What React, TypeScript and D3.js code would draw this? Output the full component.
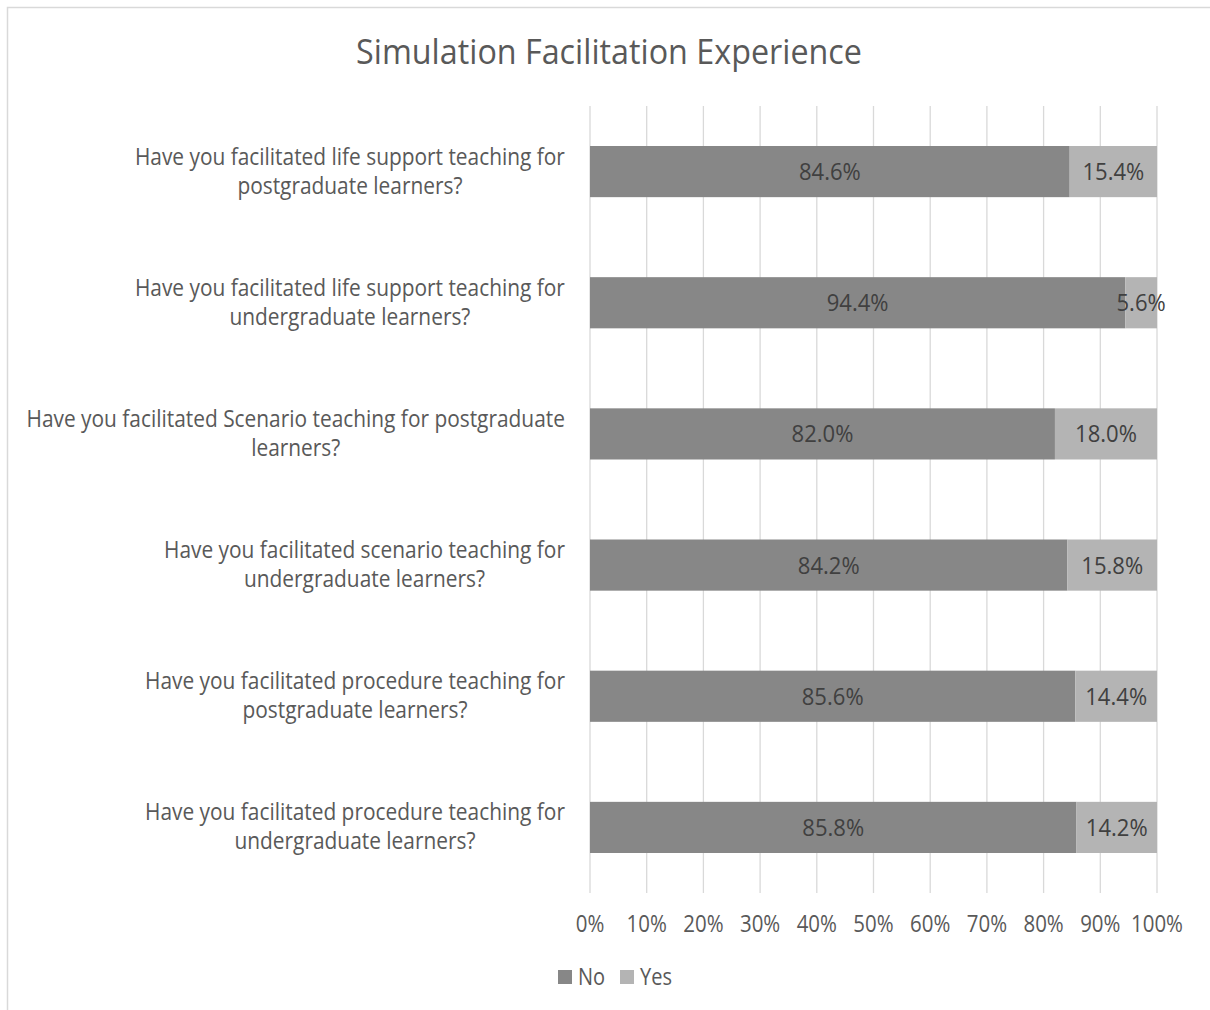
import React, { useEffect, useRef } from "react";
import * as d3 from "d3";

const title = "Simulation Facilitation Experience";
const categories = [
  "Have you facilitated life support teaching for\npostgraduate learners?",
  "Have you facilitated life support teaching for\nundergraduate learners?",
  "Have you facilitated Scenario teaching for postgraduate\nlearners?",
  "Have you facilitated scenario teaching for\nundergraduate learners?",
  "Have you facilitated procedure teaching for\npostgraduate learners?",
  "Have you facilitated procedure teaching for\nundergraduate learners?",
];
const noValues = [84.6, 94.4, 82.0, 84.2, 85.6, 85.8];
const yesValues = [15.4, 5.6, 18.0, 15.8, 14.4, 14.2];
const seriesNames = ["No", "Yes"];
const seriesColors = ["#878787", "#b4b4b4"];
const xTicks = [0, 10, 20, 30, 40, 50, 60, 70, 80, 90, 100];

const W = 1210;
const H = 1010;
const FONT = "'Open Sans', sans-serif";
const SX = 0.87;

export default function App() {
  const ref = useRef<SVGSVGElement | null>(null);

  useEffect(() => {
    const svg = d3.select(ref.current);
    svg.selectAll("*").remove();

    svg
      .append("rect")
      .attr("x", 7.5)
      .attr("y", 7.5)
      .attr("width", W + 20)
      .attr("height", H + 20)
      .attr("fill", "#ffffff")
      .attr("stroke", "#d9d9d9")
      .attr("stroke-width", 1.5);

    const x = d3.scaleLinear().domain([0, 100]).range([590, 1157]);
    const y = d3.scaleBand<string>().domain(categories).range([106, 893]).padding(0);
    const barH = y.bandwidth() * 0.39;

    // title
    svg
      .append("text")
      .attr("transform", `translate(${609},${64}) scale(${0.95},1)`)
      .attr("text-anchor", "middle")
      .attr("font-family", FONT)
      .attr("font-size", 34)
      .attr("fill", "#595959")
      .text(title);

    // gridlines
    svg
      .append("g")
      .selectAll("line")
      .data(xTicks)
      .join("line")
      .attr("x1", (d) => x(d))
      .attr("x2", (d) => x(d))
      .attr("y1", 106)
      .attr("y2", 893)
      .attr("stroke", "#d9d9d9")
      .attr("stroke-width", 1.3);

    // tick labels
    svg
      .append("g")
      .selectAll("text")
      .data(xTicks)
      .join("text")
      .attr("transform", (d) => `translate(${x(d)},${932}) scale(${SX},1)`)
      .attr("text-anchor", "middle")
      .attr("font-family", FONT)
      .attr("font-size", 23.5)
      .attr("fill", "#595959")
      .text((d) => `${d}%`);

    // bars
    const rows = categories.map((c, i) => ({ c, no: noValues[i], yes: yesValues[i] }));
    const gBars = svg.append("g");
    rows.forEach((r) => {
      const y0 = (y(r.c) as number) + (y.bandwidth() - barH) / 2;
      const segs = [
        { x0: 0, x1: r.no, color: seriesColors[0], v: r.no },
        { x0: r.no, x1: r.no + r.yes, color: seriesColors[1], v: r.yes },
      ];
      segs.forEach((s) => {
        gBars
          .append("rect")
          .attr("x", x(s.x0))
          .attr("y", y0)
          .attr("width", x(s.x1) - x(s.x0))
          .attr("height", barH)
          .attr("fill", s.color);
      });
      segs.forEach((s) => {
        gBars
          .append("text")
          .attr(
            "transform",
            `translate(${(x(s.x0) + x(s.x1)) / 2},${y0 + barH / 2 + 8.5}) scale(${0.92},1)`
          )
          .attr("text-anchor", "middle")
          .attr("font-family", FONT)
          .attr("font-size", 24)
          .attr("fill", "#404040")
          .text(`${s.v.toFixed(1)}%`);
      });
    });

    // category labels (one text element per category, one tspan per line)
    const gLab = svg.append("g");
    categories.forEach((c) => {
      const lines = c.split("\n");
      const cy = (y(c) as number) + y.bandwidth() / 2;
      const offsets = lines.length === 2 ? [-7, 22] : [8];
      const t = gLab
        .append("text")
        .attr("text-anchor", "middle")
        .attr("font-family", FONT)
        .attr("font-size", 24)
        .attr("fill", "#595959");
      const spans = lines.map((ln, j) =>
        t.append("tspan").attr("x", 0).attr("y", offsets[j]).text(ln)
      );
      const widths = spans.map((s) => (s.node() as SVGTSpanElement).getComputedTextLength());
      const maxW = d3.max(widths) as number;
      const centerX = 565 - (maxW * SX) / 2;
      t.attr("transform", `translate(${centerX},${cy}) scale(${SX},1)`);
    });

    // legend
    const legendItems = [
      { name: seriesNames[0], color: seriesColors[0], sx: 558, tx: 578 },
      { name: seriesNames[1], color: seriesColors[1], sx: 620, tx: 640 },
    ];
    const gLeg = svg.append("g");
    legendItems.forEach((it) => {
      gLeg
        .append("rect")
        .attr("x", it.sx)
        .attr("y", 970)
        .attr("width", 14)
        .attr("height", 14)
        .attr("fill", it.color);
      gLeg
        .append("text")
        .attr("transform", `translate(${it.tx},${985}) scale(${SX},1)`)
        .attr("font-family", FONT)
        .attr("font-size", 23)
        .attr("fill", "#595959")
        .text(it.name);
    });
  }, []);

  return (
    <svg
      ref={ref}
      width={W}
      height={H}
      style={{ position: "absolute", left: 0, top: 0, background: "#fff" }}
    />
  );
}
